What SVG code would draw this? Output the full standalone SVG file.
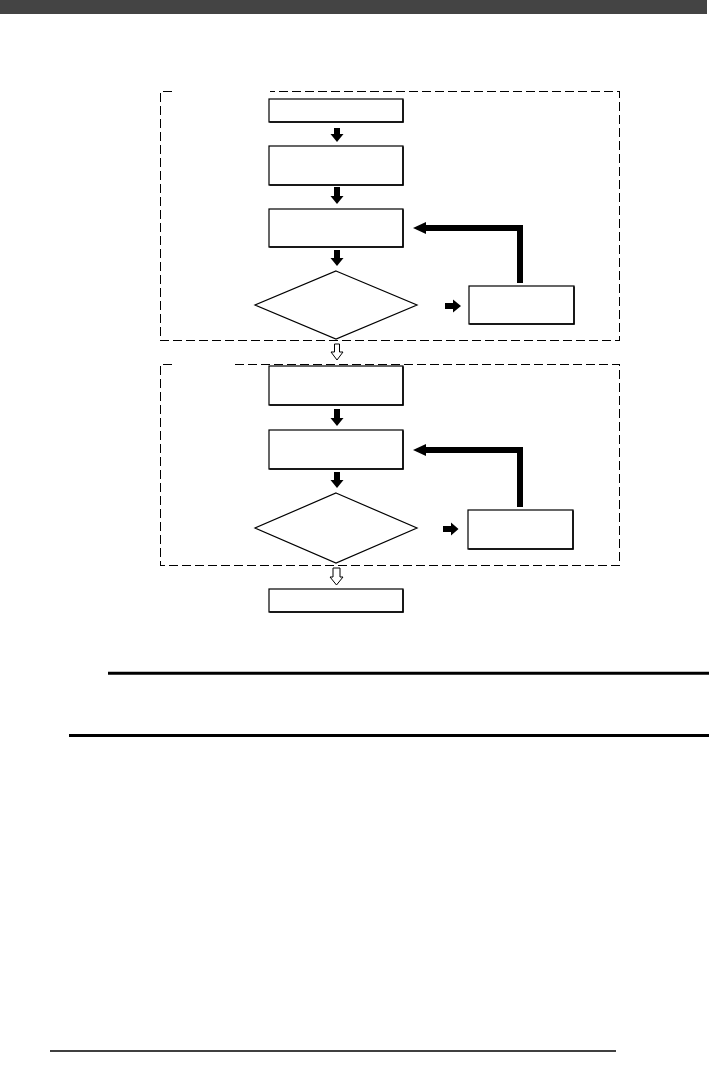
<svg xmlns="http://www.w3.org/2000/svg" width="709" height="1065" viewBox="0 0 709 1065">
<style>
.box{fill:#fff;stroke:#000;stroke-width:1.2}
.sh{fill:none;stroke:#000;stroke-width:1.5}
.dia{fill:#fff;stroke:#000;stroke-width:1.2}
.dash{fill:none;stroke:#000;stroke-width:1;stroke-dasharray:9,4;shape-rendering:crispEdges}
.blk{fill:#000}
.thick{fill:none;stroke:#000;stroke-width:6}
.hol{fill:#fff;stroke:#000;stroke-width:1}
.rule{stroke:#000;stroke-width:3}
</style>
<rect x="0" y="0" width="707" height="14" fill="#444"/>
<g id="frame1">
<path class="dash" d="M172,91.5 H160.5 V340.5 H619.5 V91.5 H270"/>
</g>
<g id="frame2">
<path class="dash" d="M172,364.5 H160.5 V565.5 H619.5 V364.5 H232"/>
</g>
<g id="b1"><rect class="box" x="269" y="99" width="134" height="23"/><path class="sh" d="M403,99.5 V122 H269.5"/></g>
<g id="b2"><rect class="box" x="269" y="146" width="134" height="39"/><path class="sh" d="M403,146.5 V185 H269.5"/></g>
<g id="b3"><rect class="box" x="269" y="209" width="134" height="38"/><path class="sh" d="M403,209.5 V247 H269.5"/></g>
<g id="d1"><polygon class="dia" points="336,271 417,305 336,339 255,305"/></g>
<g id="r1"><rect class="box" x="469" y="286" width="105" height="38"/><path class="sh" d="M574,286.5 V324 H469.5"/></g>
<g id="b4"><rect class="box" x="269" y="366" width="134" height="39"/><path class="sh" d="M403,366.5 V405 H269.5"/></g>
<g id="b5"><rect class="box" x="269" y="430" width="134" height="39"/><path class="sh" d="M403,430.5 V469 H269.5"/></g>
<g id="d2"><polygon class="dia" points="336,493 417,528 336,563 255,528"/></g>
<g id="r2"><rect class="box" x="468" y="510" width="105" height="39"/><path class="sh" d="M573,510.5 V549 H468.5"/></g>
<g id="b6"><rect class="box" x="269" y="589" width="134" height="23"/><path class="sh" d="M403,589.5 V612 H269.5"/></g>
<g id="connectors">
<polygon class="blk" points="334,128 340,128 340,134 343.5,134 337,142 330.5,134 334,134"/>
<polygon class="blk" points="334,187 340,187 340,196 343.5,196 337,204 330.5,196 334,196"/>
<polygon class="blk" points="334,250 340,250 340,258 343.5,258 337,266 330.5,258 334,258"/>
<polygon class="blk" points="334,409 340,409 340,418 343.5,418 337,426 330.5,418 334,418"/>
<polygon class="blk" points="334,472 340,472 340,480 343.5,480 337,488 330.5,480 334,480"/>
<polygon class="blk" points="445,303 453,303 453,299.5 461,306 453,312.5 453,309 445,309"/>
<polygon class="blk" points="443,526 451,526 451,522.5 458.5,529 451,535.5 451,532 443,532"/>
<path class="thick" d="M520,283 V228 H424"/>
<polygon class="blk" points="413,228 426,222 426,234"/>
<path class="thick" d="M520,507 V450 H424"/>
<polygon class="blk" points="413,450 426,444 426,456"/>
<polygon class="hol" points="334.5,344 339.5,344 339.5,352 343,352 337,360 331,352 334.5,352"/>
<polygon class="hol" points="333,568 340,568 340,577 343,577 336.5,585 330,577 333,577"/>
</g>
<line class="rule" x1="108" y1="673.3" x2="709" y2="673.3"/>
<line class="rule" x1="69" y1="735.5" x2="709" y2="735.5"/>
<line x1="50" y1="1051" x2="616" y2="1051" stroke="#000" stroke-width="1.5"/>
</svg>
